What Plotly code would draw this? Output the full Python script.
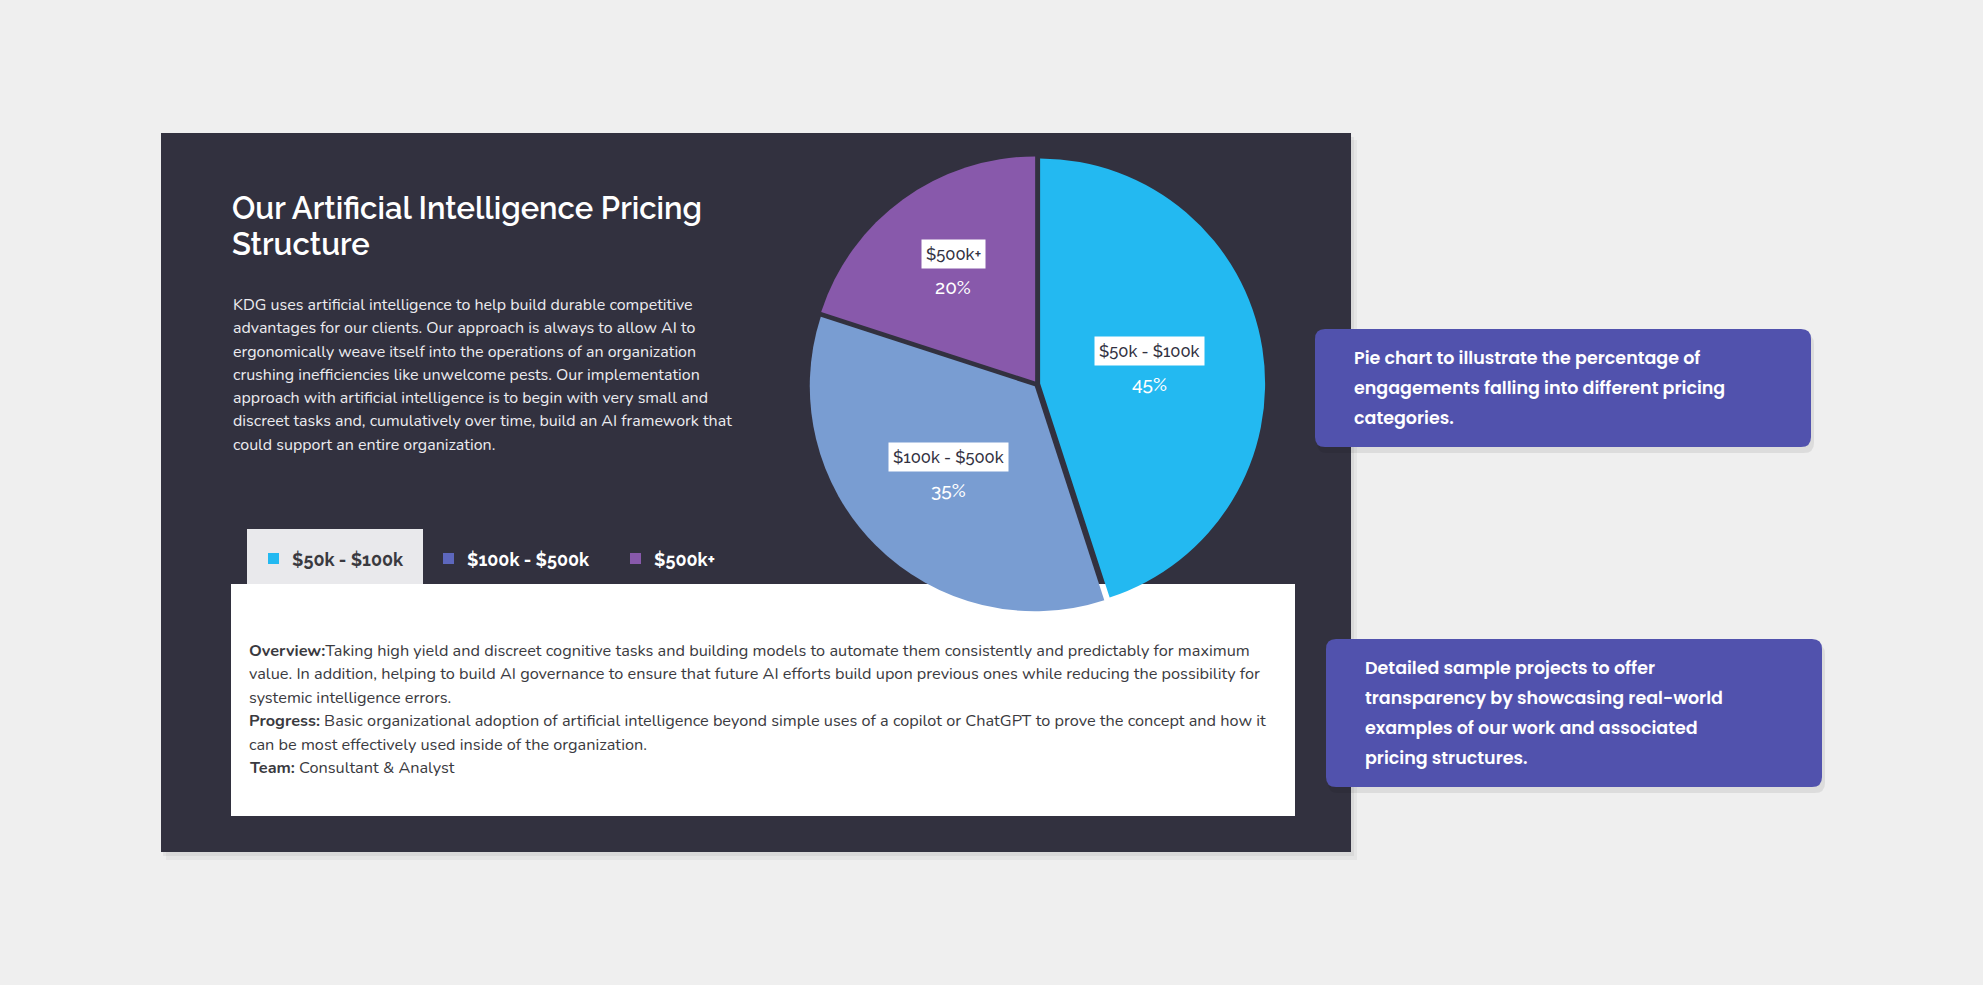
import math
import plotly.graph_objects as go

# pie data
LABELS = ['$50k - $100k', '$100k - $500k', '$500k+']
SHARES = [45, 35, 20]
SLICE_COLOURS = ['#23b9f1', '#799dd2', '#8859ab']
TAB_SWATCHES = ['#23b9f1', '#5d67bd', '#8859ab']

TITLE_LINES = ['Our Artificial Intelligence Pricing', 'Structure']
INTRO_LINES = [
    'KDG uses artificial intelligence to help build durable competitive',
    'advantages for our clients. Our approach is always to allow AI to',
    'ergonomically weave itself into the operations of an organization',
    'crushing inefficiencies like unwelcome pests. Our implementation',
    'approach with artificial intelligence is to begin with very small and',
    'discreet tasks and, cumulatively over time, build an AI framework that',
    'could support an entire organization.',
]
DETAIL_LINES = [
    '<b>Overview:</b>Taking high yield and discreet cognitive tasks and building models to automate them '
    'consistently and predictably for maximum',
    'value. In addition, helping to build AI governance to ensure that future AI efforts build upon previous '
    'ones while reducing the possibility for',
    'systemic intelligence errors.',
    '<b>Progress:</b> Basic organizational adoption of artificial intelligence beyond simple uses of a copilot '
    'or ChatGPT to prove the concept and how it',
    'can be most effectively used inside of the organization.',
    '<b>Team:</b> Consultant & Analyst',
]
NOTE_1 = ['Pie chart to illustrate the percentage of', 'engagements falling into different pricing', 'categories.']
NOTE_2 = ['Detailed sample projects to offer', 'transparency by showcasing real-world',
          'examples of our work and associated', 'pricing structures.']

W, H = 1983, 985
BG = '#efefef'
PANEL = '#32313f'
NOTE_BG = '#5152ad'
DARK_TEXT = '#3a3a40'
BODY_FONT = 'Nunito, Open Sans'
HEAD_FONT = 'Raleway, Open Sans'

PIE_CX, PIE_CY, PIE_R = 1037, 384, 225
PULL = 0.014
LABEL_FRAC = [0.49, 0.54, 0.62]


def px(x):
    return x / W


def py(y):
    return 1 - y / H


def rect(x0, y0, x1, y1, colour, opacity=1.0):
    return dict(type='rect', xref='paper', yref='paper', x0=px(x0), x1=px(x1), y0=py(y1), y1=py(y0),
                fillcolor=colour, opacity=opacity, line_width=0, layer='below')


def rounded(x0, y0, x1, y1, r, colour, opacity=1.0):
    X0, X1, Y0, Y1 = px(x0), px(x1), py(y1), py(y0)
    rx, ry = r / W, r / H
    path = (f'M {X0 + rx},{Y1} L {X1 - rx},{Y1} Q {X1},{Y1} {X1},{Y1 - ry} '
            f'L {X1},{Y0 + ry} Q {X1},{Y0} {X1 - rx},{Y0} L {X0 + rx},{Y0} Q {X0},{Y0} {X0},{Y0 + ry} '
            f'L {X0},{Y1 - ry} Q {X0},{Y1} {X0 + rx},{Y1} Z')
    return dict(type='path', xref='paper', yref='paper', path=path, fillcolor=colour, opacity=opacity,
                line_width=0, layer='below')


def text(x, y, s, size, colour, family=BODY_FONT, weight=400, anchor='left', **kw):
    return dict(x=px(x), y=py(y), xref='paper', yref='paper', text=s, showarrow=False,
                xanchor=anchor, yanchor='middle', align='left',
                font=dict(family=family, size=size, color=colour, weight=weight), **kw)


shapes = []
# panel shadow + panel
shapes.append(rect(166, 140, 1357, 860, '#000000', 0.04))
shapes.append(rect(163, 137, 1354, 856, '#000000', 0.05))
shapes.append(rect(161, 133, 1351, 852, PANEL))
# active tab + white detail box
shapes.append(rect(247, 529, 423, 584, '#e9e9ec'))
shapes.append(rect(231, 584, 1295, 816, '#ffffff'))
# callout boxes with shadow
for (x0, y0, x1, y1) in [(1315, 329, 1811, 447), (1326, 639, 1822, 787)]:
    shapes.append(rounded(x0 + 2, y0 + 5, x1 + 3, y1 + 6, 10, '#000000', 0.08))
    shapes.append(rounded(x0, y0, x1, y1, 10, NOTE_BG))

annotations = []
for i, line in enumerate(TITLE_LINES):
    annotations.append(text(230, 208 + i * 36, line, 31, '#ffffff', family=HEAD_FONT, weight=600))
for i, line in enumerate(INTRO_LINES):
    annotations.append(text(231, 305 + i * 23.3, line, 16, '#ececf0'))
for i, line in enumerate(DETAIL_LINES):
    annotations.append(text(247, 651 + i * 23.4, line, 16.3, DARK_TEXT))
for i, line in enumerate(NOTE_1):
    annotations.append(text(1352, 358 + i * 30, line, 17.5, '#ffffff', family='Poppins, Inter', weight=600))
for i, line in enumerate(NOTE_2):
    annotations.append(text(1363, 668 + i * 30, line, 17.5, '#ffffff', family='Poppins, Inter', weight=600))

# tab row
tab_x = [268, 443, 630]
for i, lab in enumerate(LABELS):
    shapes.append(rect(tab_x[i], 553, tab_x[i] + 11, 564, TAB_SWATCHES[i]))
    annotations.append(text(tab_x[i] + 22, 559, lab, 18, DARK_TEXT if i == 0 else '#ffffff',
                            family=HEAD_FONT, weight=700))

# slice labels, placed along each slice's bisector
total = sum(SHARES)
cum = 0
for i, (lab, v) in enumerate(zip(LABELS, SHARES)):
    a = math.radians((cum + v / 2) / total * 360)
    cum += v
    d = (LABEL_FRAC[i] + PULL) * PIE_R
    lx = PIE_CX + d * math.sin(a)
    ly = PIE_CY - d * math.cos(a)
    annotations.append(text(lx, ly - 15, lab, 16.5, PANEL, family=HEAD_FONT, weight=500, anchor='center',
                            bgcolor='#ffffff', borderpad=4))
    annotations.append(text(lx, ly + 18, f'{v}%', 19, '#ffffff', family=HEAD_FONT, weight=500, anchor='center'))

side = 2 * PIE_R * (1 + PULL)
pie = go.Pie(
    values=SHARES,
    labels=LABELS,
    sort=False,
    direction='clockwise',
    rotation=0,
    pull=[PULL] * len(SHARES),
    marker=dict(colors=SLICE_COLOURS, line=dict(width=0)),
    textinfo='none',
    hoverinfo='label+percent',
    showlegend=False,
    domain=dict(x=[px(PIE_CX - side / 2), px(PIE_CX + side / 2)],
                y=[py(PIE_CY + side / 2), py(PIE_CY - side / 2)]),
)

fig = go.Figure(data=[pie])
fig.update_layout(width=W, height=H, margin=dict(l=0, r=0, t=0, b=0), paper_bgcolor=BG, plot_bgcolor=BG,
                  shapes=shapes, annotations=annotations, showlegend=False)
fig.write_html('out.html', config={'displayModeBar': False},
               post_script="document.body.style.margin='0';")
